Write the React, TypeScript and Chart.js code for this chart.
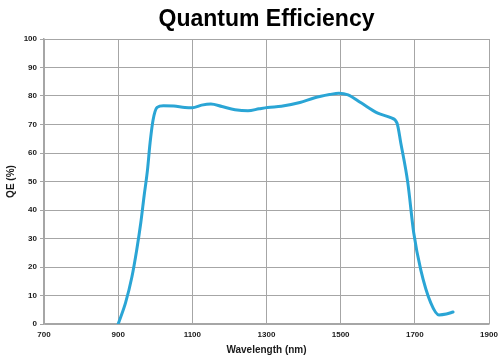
import React, { useEffect, useRef } from "react";
import { Chart, registerables } from "chart.js";

Chart.register(...registerables);

const TITLE = "Quantum Efficiency";
const X_TITLE = "Wavelength (nm)";
const Y_TITLE = "QE (%)";

const wavelengths = [
  900, 920, 937, 950, 961, 970, 979, 986, 994, 1005, 1022, 1050, 1080, 1100,
  1125, 1150, 1180, 1215, 1250, 1280, 1303, 1340, 1390, 1430, 1470, 1495, 1520,
  1555, 1600, 1635, 1652, 1662, 1681, 1697, 1716, 1743, 1765, 1785, 1803,
];
const qe = [
  0, 7.5, 16.5, 26, 35.5, 45, 54, 63.5, 71.5, 76, 76.6, 76.5, 76, 75.9, 76.8,
  77.2, 76.3, 75.2, 74.8, 75.5, 76, 76.4, 77.7, 79.4, 80.5, 81, 80.4, 77.6, 74,
  72.4, 70.5, 63.6, 49.6, 32, 19, 7.4, 3.2, 3.5, 4.2,
];

const X_MIN = 700;
const X_MAX = 1900;
const X_STEP = 200;
const Y_MIN = 0;
const Y_MAX = 100;
const Y_STEP = 10;

const FONT = "'Liberation Sans', Arial, Helvetica, sans-serif";
const TEXT = "#1a1a1a";
const GRID = "#a6a6a6";
const LINE = "#2aa5d5";

const titlePlugin = {
  id: "centeredTitle",
  afterDraw(chart: any) {
    const { ctx, chartArea } = chart;
    ctx.save();
    ctx.font = `bold 23px ${FONT}`;
    ctx.fillStyle = "#000";
    ctx.textAlign = "center";
    ctx.textBaseline = "alphabetic";
    ctx.fillText(TITLE, (chartArea.left + chartArea.right) / 2, 26);
    ctx.restore();
  },
};

export default function App() {
  const ref = useRef<HTMLCanvasElement | null>(null);

  useEffect(() => {
    document.body.style.margin = "0";
    const canvas = ref.current;
    if (!canvas) return;
    const chart = new Chart(canvas, {
      type: "line",
      data: {
        datasets: [
          {
            data: wavelengths.map((w, i) => ({ x: w, y: qe[i] })),
            borderColor: LINE,
            borderWidth: 3,
            pointRadius: 0,
            fill: false,
            cubicInterpolationMode: "monotone",
            borderCapStyle: "round",
            borderJoinStyle: "round",
          },
        ],
      },
      options: {
        responsive: false,
        animation: false,
        layout: { padding: { top: 39, right: 11, left: 0, bottom: 0 } },
        plugins: {
          legend: { display: false },
          tooltip: { enabled: false },
          title: { display: false },
        },
        scales: {
          x: {
            type: "linear",
            min: X_MIN,
            max: X_MAX,
            ticks: {
              stepSize: X_STEP,
              color: TEXT,
              font: { family: FONT, size: 8, weight: "bold" },
              padding: 6,
              maxRotation: 0,
              autoSkip: false,
              callback: (v: any) => String(v),
            },
            grid: { color: GRID, lineWidth: 1, tickLength: 4, drawTicks: false },
            border: { display: true, color: GRID, width: 1.5 },
            title: {
              display: true,
              text: X_TITLE,
              color: TEXT,
              font: { family: FONT, size: 10, weight: "bold" },
              padding: { top: 0, bottom: 4 },
            },
            afterFit: (scale: any) => {
              scale.height = 36;
              scale.paddingLeft = 0;
              scale.paddingRight = 0;
            },
          },
          y: {
            min: Y_MIN,
            max: Y_MAX,
            ticks: {
              stepSize: Y_STEP,
              color: TEXT,
              font: { family: FONT, size: 8, weight: "bold" },
              padding: 3,
            },
            grid: { color: GRID, lineWidth: 1, tickLength: 4 },
            border: { display: true, color: GRID, width: 1.5 },
            title: {
              display: true,
              text: Y_TITLE,
              color: TEXT,
              font: { family: FONT, size: 10, weight: "bold" },
              padding: { top: 5, bottom: 0 },
            },
            afterFit: (scale: any) => {
              scale.width = 44;
              scale.paddingTop = 0;
              scale.paddingBottom = 0;
            },
          },
        },
      },
      plugins: [titlePlugin],
    });
    return () => chart.destroy();
  }, []);

  return (
    <div style={{ position: "absolute", left: 0, top: 0, width: 500, height: 360, background: "#fff" }}>
      <canvas ref={ref} width={500} height={360} />
    </div>
  );
}
